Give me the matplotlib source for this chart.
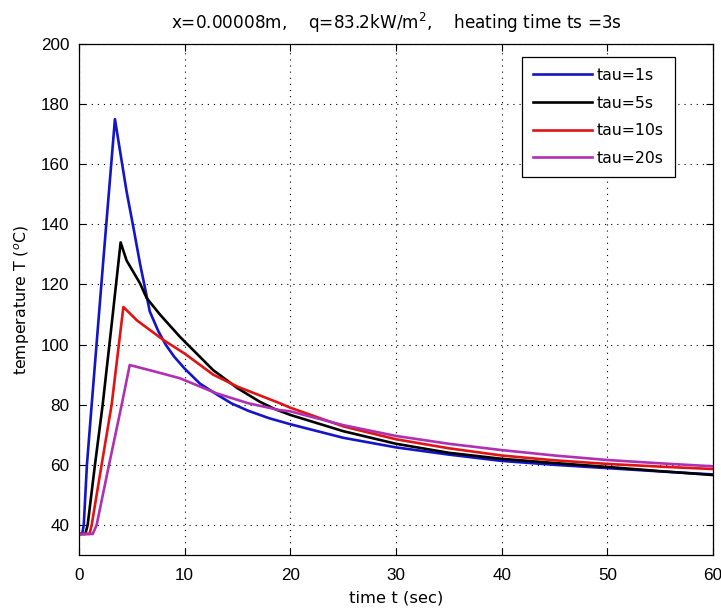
import matplotlib
matplotlib.use("Agg")
import matplotlib.pyplot as plt

plt.rcParams['font.family'] = ['Liberation Sans', 'DejaVu Sans']

# tau = 1 s
t_tau1 = [0, 0.3, 0.45, 0.75, 1.2, 2.3, 3.4, 4.04, 4.5, 5.2, 5.77, 6.7, 7.5, 8.2, 9, 10, 11.45, 13, 14.4, 16, 18, 20, 25, 30, 35, 40, 45, 50, 55, 60]
T_tau1 = [37, 37, 40, 60, 80, 128, 175, 161, 151, 138, 127, 111, 104.5, 100, 96, 92, 87, 83.5, 80.5, 78, 75.5, 73.5, 69, 65.8, 63.4, 61.3, 60.0, 58.9, 57.8, 56.8]

# tau = 5 s
t_tau5 = [0, 0.6, 0.82, 1.51, 2.24, 3.1, 3.94, 4.5, 5.77, 6.4, 7.66, 9.55, 12.7, 15, 17.1, 18.5, 20, 25, 30, 35, 40, 45, 50, 55, 60]
T_tau5 = [37, 37, 40, 60, 80, 107, 134, 128, 120.4, 115.5, 110, 102.6, 91.5, 85.5, 81, 78.6, 76.6, 71.2, 67, 64, 62, 60.6, 59.3, 57.9, 56.6]

# tau = 10 s
t_tau10 = [0, 1.0, 1.2, 2.14, 3.09, 4.2, 5.5, 8, 10, 12.7, 15, 19, 20, 25, 30, 35, 40, 45, 50, 55, 60]
T_tau10 = [37, 37, 40, 60, 80, 112.5, 108, 101.5, 97, 90, 86, 80.5, 79, 72.8, 68.5, 65.5, 63.1, 61.5, 60.3, 59.4, 58.6]

# tau = 20 s
t_tau20 = [0, 1.3, 1.67, 2.84, 4.04, 4.8, 7, 9.55, 13, 16, 19, 20, 25, 30, 35, 40, 45, 50, 55, 60]
T_tau20 = [37, 37, 40, 60, 80, 93.2, 91.2, 88.8, 83.8, 80.5, 78.2, 77.8, 73.2, 69.6, 67, 64.9, 63.1, 61.6, 60.5, 59.5]

series = [
    ("tau=1s", t_tau1, T_tau1, "#1414c8"),
    ("tau=5s", t_tau5, T_tau5, "#000000"),
    ("tau=10s", t_tau10, T_tau10, "#e01414"),
    ("tau=20s", t_tau20, T_tau20, "#b030b4"),
]

x_ticks = [0, 10, 20, 30, 40, 50, 60]
y_ticks = [40, 60, 80, 100, 120, 140, 160, 180, 200]

fig = plt.figure(figsize=(7.21, 6.10), dpi=100)
ax = fig.add_axes([79/721, 55/610, (713-79)/721, (555-44)/610])

for label, t, T, c in series:
    ax.plot(t, T, color=c, linewidth=1.9, label=label)

ax.set_xlim(0, 60)
ax.set_ylim(30, 200)
ax.set_xticks(x_ticks)
ax.set_yticks(y_ticks)
ax.tick_params(axis='x', pad=9)
ax.tick_params(axis='y', pad=7)
ax.tick_params(direction='in', top=True, right=True, length=5, width=0.8,
               labelsize=12.3)
ax.grid(True, color='black', linestyle=(0, (1, 4.5)), linewidth=0.8)
for s in ax.spines.values():
    s.set_linewidth(0.9)
    s.set_color('black')

lab_font = ['DejaVu Sans']
ax.set_title("x=0.00008m,    q=83.2kW/m$^2$,    heating time ts =3s",
             fontsize=12.2, pad=11, family=lab_font)
ax.set_xlabel("time t (sec)", fontsize=11.8, labelpad=6, family=lab_font)
ax.set_ylabel("temperature T ($^{o}$C)", fontsize=11.3, labelpad=6, family=lab_font)

leg = ax.legend(loc='upper right', bbox_to_anchor=((675-79)/634, (555-57)/511),
                prop={'family': lab_font, 'size': 11.3},
                frameon=True, fancybox=False, borderaxespad=0,
                handlelength=3.75, handletextpad=0.3, labelspacing=0.8,
                borderpad=0.7)
leg.get_frame().set_edgecolor('black')
leg.get_frame().set_linewidth(0.9)
leg.get_frame().set_alpha(1)

fig.savefig("out.png", dpi=100)
